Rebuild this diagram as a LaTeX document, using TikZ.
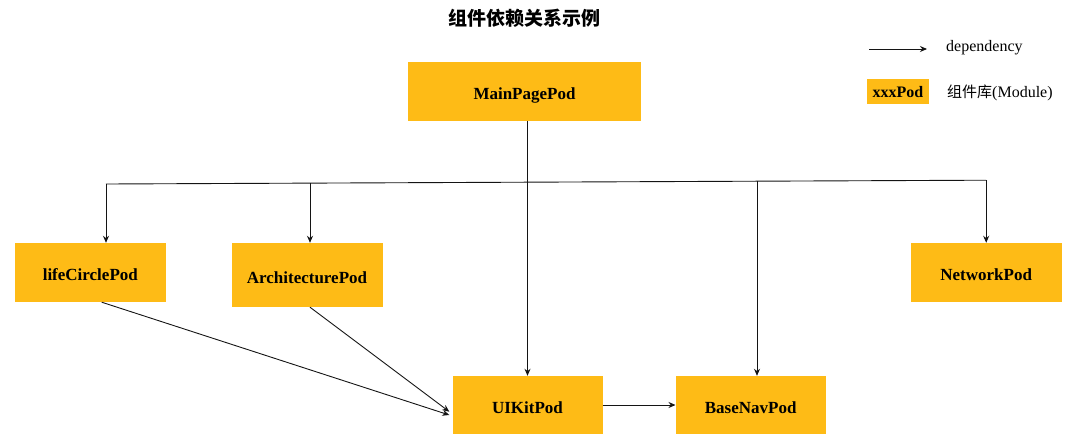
\documentclass[tikz,border=0pt]{standalone}
\usepackage{fontspec}
\setmainfont{Liberation Serif}
\newfontfamily\cjk{Noto Sans CJK SC}
\usetikzlibrary{arrows.meta}
\definecolor{podyellow}{RGB}{254,187,22}
\definecolor{linegray}{RGB}{20,20,20}
\tikzset{
  pod/.style={fill=podyellow, draw=none, inner sep=0pt, anchor=center,
    text height=16pt, text depth=0pt,
    font=\bfseries\fontsize{17}{19}\selectfont},
  conn/.style={draw=linegray, line width=0.9pt},
  dep/.style={conn, -{Stealth[length=7pt,width=6pt]}},
  legtext/.style={inner sep=0pt, anchor=west, font=\fontsize{16}{18}\selectfont}
}
\begin{document}
\begin{tikzpicture}[x=1pt,y=-1pt]
\useasboundingbox (0,0) rectangle (1080,445);
% title
\node[inner sep=0pt, font=\cjk\bfseries\fontsize{19}{22}\selectfont] (title) at (524.5,18) {组件依赖关系示例};
% nodes
\node[pod, minimum width=233pt, minimum height=59pt] (main) at (524.5,91.5) {MainPagePod};
\node[pod, minimum width=151pt, minimum height=59pt] (life) at (90.3,272.5) {lifeCirclePod};
\node[pod, minimum width=151pt, minimum height=64pt] (arch) at (307,275) {ArchitecturePod};
\node[pod, minimum width=151pt, minimum height=59pt] (net) at (986.2,272.5) {NetworkPod};
\node[pod, minimum width=150pt, minimum height=58pt] (ui) at (527.5,405) {UIKitPod};
\node[pod, minimum width=150pt, minimum height=58pt] (base) at (750.7,405) {BaseNavPod};
% bus
\coordinate (busL) at (106,184);
\coordinate (b2) at (310,183.1);
\coordinate (b4) at (757,181.1);
\coordinate (busR) at (986.2,180.2);
\draw[conn] (busL) -- (busR);
\draw[dep] (main.south -| ui.north) -- (ui.north);
\draw[dep] (busL) -- (busL |- life.north);
\draw[dep] (b2) -- (b2 |- arch.north);
\draw[dep] (b4) -- (b4 |- base.north);
\draw[dep] (busR) -- (busR |- net.north);
\draw[dep] ([xshift=11.4pt]life.south) -- ([xshift=-3pt,yshift=-10pt]ui.west);
\draw[dep] ([xshift=3pt]arch.south) -- ([xshift=-3pt,yshift=-6.7pt]ui.west);
\draw[dep] (ui.east) -- (base.west);
% legend
\coordinate (leg1) at (869,49);
\coordinate (leg2) at (927,49);
\draw[dep] (leg1) -- (leg2);
\node[legtext] (depl) at (946,47.5) {dependency};
\node[pod, minimum width=62.6pt, minimum height=25pt, text height=10.6pt, font=\bfseries\fontsize{16}{18}\selectfont] (legbox) at (898,91.7) {xxxPod};
\node[legtext] (modl) at (947,93) {{\cjk\fontsize{15}{17}\selectfont 组件库}(Module)};
\end{tikzpicture}
\end{document}
